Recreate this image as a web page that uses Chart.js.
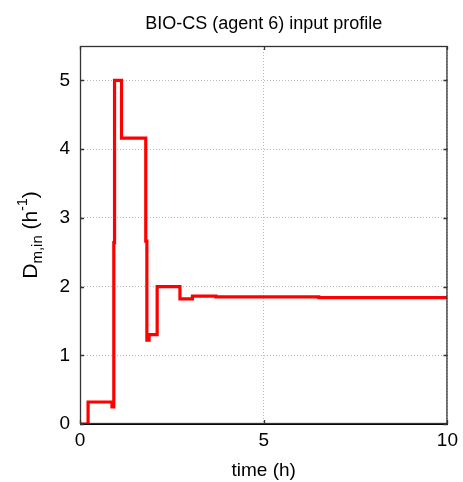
<!DOCTYPE html>
<html><head><meta charset="utf-8">
<script src="https://cdn.jsdelivr.net/npm/chart.js@4/dist/chart.umd.min.js"></script>
<style>html,body{margin:0;padding:0;background:#fff;}canvas{display:block;}</style>
</head><body>
<canvas id="c" width="463" height="482"></canvas>
<script>
const times = [0, 0.22, 0.87, 0.92, 0.94, 1.13, 1.79, 1.82, 1.88, 2.1, 2.72, 3.06, 3.7, 6.5, 10];
const rates = [0, 0.32, 0.25, 2.64, 5.0, 4.16, 2.66, 1.22, 1.3, 2.0, 1.82, 1.86, 1.85, 1.84, 1.84];
const xTicks = [0, 5, 10];
const yTicks = [0, 1, 2, 3, 4, 5];
const titleText = 'BIO-CS (agent 6) input profile';
const xLabel = 'time (h)';

const FONT = '"Liberation Sans", Arial, sans-serif';

const framePlugin = {
  id: 'frame',
  afterDraw(chart) {
    const {ctx, chartArea: a, scales} = chart;
    ctx.save();
    ctx.strokeStyle = '#333';
    ctx.lineWidth = 1.3;
    ctx.strokeRect(a.left + 0.5, a.top + 0.5, a.right - a.left - 1, a.bottom - a.top - 1);
    ctx.beginPath();
    xTicks.forEach(v => {
      const x = Math.round(scales.x.getPixelForValue(v)) + 0.5;
      ctx.moveTo(x, a.bottom); ctx.lineTo(x, a.bottom - 4);
      ctx.moveTo(x, a.top); ctx.lineTo(x, a.top + 4);
    });
    yTicks.forEach(v => {
      const y = Math.round(scales.y.getPixelForValue(v)) + 0.5;
      ctx.moveTo(a.left, y); ctx.lineTo(a.left + 4, y);
      ctx.moveTo(a.right, y); ctx.lineTo(a.right - 4, y);
    });
    ctx.stroke();
    // title
    ctx.fillStyle = '#000';
    ctx.font = '18px ' + FONT;
    ctx.textAlign = 'center';
    ctx.textBaseline = 'alphabetic';
    ctx.fillText(titleText, (a.left + a.right) / 2, 29);
    // y label with sub/superscript
    ctx.translate(37, (a.top + a.bottom) / 2);
    ctx.rotate(-Math.PI / 2);
    const parts = [
      {t: 'D', f: 21, dy: 0},
      {t: 'm,in', f: 15, dy: 5},
      {t: ' (h', f: 21, dy: 0},
      {t: '-1', f: 14, dy: -10},
      {t: ')', f: 21, dy: 0}
    ];
    let w = 0;
    parts.forEach(p => { ctx.font = p.f + 'px ' + FONT; p.w = ctx.measureText(p.t).width; w += p.w; });
    let x = -w / 2;
    ctx.textAlign = 'left';
    parts.forEach(p => { ctx.font = p.f + 'px ' + FONT; ctx.fillText(p.t, x, p.dy); x += p.w; });
    ctx.restore();
  }
};

new Chart(document.getElementById('c'), {
  type: 'line',
  data: {
    datasets: [{
      data: times.map((t, i) => ({x: t, y: rates[i]})),
      borderColor: '#ff0000',
      borderWidth: 3.2,
      pointRadius: 0,
      stepped: 'before',
      fill: false
    }]
  },
  options: {
    responsive: false,
    animation: false,
    events: [],
    layout: {padding: {left: 0, right: 15, top: 46, bottom: 0}},
    plugins: {legend: {display: false}, tooltip: {enabled: false}, title: {display: false}},
    scales: {
      x: {
        type: 'linear', min: 0, max: 10,
        afterBuildTicks: s => { s.ticks = xTicks.map(v => ({value: v})); },
        afterFit: s => { s.height = 58; },
        grid: {color: '#b8b8b8', drawTicks: false, lineWidth: 1},
        border: {display: true, color: '#000', dash: [1, 2]},
        ticks: {color: '#000', font: {size: 19, family: FONT}, padding: 5, maxRotation: 0},
        title: {display: true, text: xLabel, color: '#000', font: {size: 19, family: FONT}, padding: {top: 0, bottom: 0}}
      },
      y: {
        type: 'linear', min: 0, max: 5.5,
        afterBuildTicks: s => { s.ticks = yTicks.map(v => ({value: v})); },
        afterFit: s => { s.width = 80; },
        grid: {color: '#b8b8b8', drawTicks: false, lineWidth: 1},
        border: {display: true, color: '#000', dash: [1, 2]},
        ticks: {color: '#000', font: {size: 19, family: FONT}, padding: 10}
      }
    }
  },
  plugins: [framePlugin]
});
</script>
</body></html>
